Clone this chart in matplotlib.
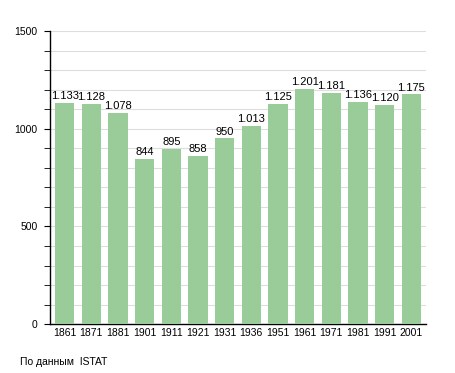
import matplotlib
matplotlib.use("Agg")
import matplotlib.pyplot as plt
from matplotlib.ticker import MultipleLocator

plt.rcParams['font.family'] = ['Liberation Sans', 'DejaVu Sans']
narrow = ['Liberation Sans Narrow', 'Liberation Sans']

# population by census year
years = ["1861", "1871", "1881", "1901", "1911", "1921", "1931",
         "1936", "1951", "1961", "1971", "1981", "1991", "2001"]
population = [1133, 1128, 1078, 844, 895, 858, 950,
              1013, 1125, 1201, 1181, 1136, 1120, 1175]

fig = plt.figure(figsize=(4.55, 3.73), dpi=100)
ax = fig.add_axes([0.11, 0.131, 0.826, 0.786])

x = range(len(years))
bars = ax.bar(x, population, width=0.72, color="#99cc99", zorder=3)

# value labels, italian style thousands separator
for xi, v in zip(x, population):
    lbl = "{:,}".format(v).replace(",", ".")
    ax.text(xi, v + 10, lbl, ha="center", va="bottom", fontsize=8,
            family=narrow, zorder=4)

ax.set_xlim(-0.55, len(years) - 0.45)
ax.set_ylim(0, 1500)
ax.set_xticks(list(x))
ax.set_xticklabels(years, fontsize=7.5, family=narrow)
ax.set_yticks([0, 500, 1000, 1500])
ax.yaxis.set_minor_locator(MultipleLocator(100))
ax.tick_params(axis="y", labelsize=7.5, length=4, direction="out", pad=5)
ax.tick_params(axis="y", which="minor", length=4, direction="out")
ax.tick_params(axis="x", length=0, pad=3)
ax.grid(axis="y", which="both", color="#dddddd", linewidth=0.8, zorder=0)

for s in ["top", "right"]:
    ax.spines[s].set_visible(False)
ax.spines["left"].set_linewidth(1)
ax.spines["bottom"].set_linewidth(1)

fig.text(0.044, 0.022, "По данным  ISTAT", fontsize=7.5)

fig.savefig("out.png", dpi=100)
